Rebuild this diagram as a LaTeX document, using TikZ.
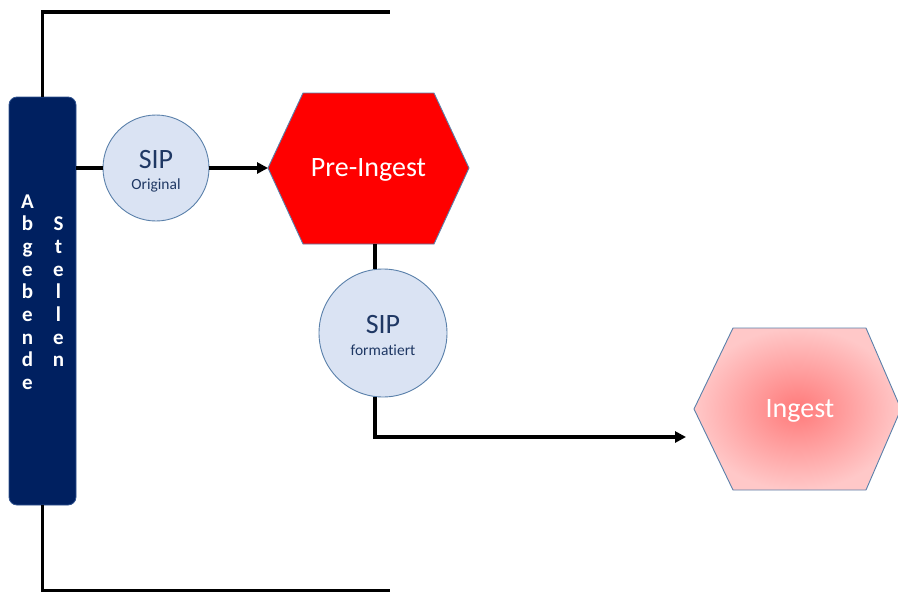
\documentclass[tikz,border=0pt]{standalone}
\usepackage{fontspec}
\setmainfont[Ligatures=NoCommon]{Carlito}
\usetikzlibrary{arrows.meta}
\definecolor{navy}{HTML}{002060}
\definecolor{navyedge}{HTML}{2F528F}
\definecolor{edgeblue}{HTML}{5A80AA}
\definecolor{sipfill}{HTML}{DAE3F3}
\definecolor{siptext}{HTML}{1F3864}
\definecolor{ingin}{HTML}{FF7A7A}
\definecolor{ingout}{HTML}{FFC8C8}
\begin{document}
\begin{tikzpicture}[x=1pt,y=-1pt,
  conn/.style={line width=3.4pt, black},
  arr/.style={conn, -{Triangle[length=11pt,width=11pt]}},
  sipcircle/.style={circle, draw=edgeblue, line width=0.9pt, fill=sipfill, inner sep=0pt},
  sipbig/.style={text=siptext, font=\fontsize{28}{30}\selectfont, inner sep=0pt},
  sipsmall/.style={text=siptext, font=\fontsize{15.5}{17}\selectfont, inner sep=0pt},
  hexlabel/.style={text=white, font=\fontsize{28}{30}\selectfont, inner sep=0pt},
  letter/.style={text=white, font=\bfseries\fontsize{21}{22}\selectfont, inner sep=0pt, anchor=base},
  hexedge/.style={draw=edgeblue, line width=0.9pt}
]
\useasboundingbox (0,0) rectangle (898,592);

% Abgebende Stellen bar
\node[draw=navyedge, line width=0.8pt, fill=navy, rounded corners=8pt,
      minimum width=67pt, minimum height=408pt, inner sep=0pt] (bar) at (42.5,301) {};
\foreach \c [count=\i] in {A,b,g,e,b,e,n,d,e}
  \node[letter] (abg\i) at (27.5,{208+22.7*(\i-1)}) {\c};
\foreach \c [count=\i] in {S,t,e,l,l,e,n}
  \node[letter] (st\i) at (58.5,{230.7+22.7*(\i-1)}) {\c};

% frame lines
\coordinate (topend) at (390,12);
\coordinate (botend) at (390,591);
\draw[conn] (bar.north) |- (topend);
\draw[conn] (bar.south) |- (botend);

% SIP Original
\node[sipcircle, minimum size=106pt] (sip1) at (156,168) {};
\node[sipbig] (sip1a) at (156,160) {SIP};
\node[sipsmall] (sip1b) at (156,185) {Original};

% Pre-Ingest hexagon
\coordinate (pw) at (268,168);
\coordinate (pnw) at (303,93);
\coordinate (pne) at (434,93);
\coordinate (pe) at (469,168);
\coordinate (pse) at (434,244);
\coordinate (psw) at (303,244);
\coordinate (pb) at (375,244);
\fill[red] (pw) -- (pnw) -- (pne) -- (pe) -- (pse) -- (psw) -- cycle;
\draw[hexedge] (pw) -- (pnw) -- (pne) -- (pe) -- (pse) -- (psw) -- cycle;
\node[hexlabel] (pre) at (368.5,170) {Pre-Ingest};

% SIP formatiert
\node[sipcircle, minimum size=128pt] (sip2) at (383,333) {};
\node[sipbig] (sip2a) at (383,325) {SIP};
\node[sipsmall] (sip2b) at (383,350) {formatiert};

% Ingest hexagon
\coordinate (iw) at (694,409);
\coordinate (inw) at (733,328);
\coordinate (ine) at (866,328);
\coordinate (ie) at (901,409);
\coordinate (ise) at (866,490);
\coordinate (isw) at (733,490);
\shade[inner color=ingin, outer color=ingout] (iw) -- (inw) -- (ine) -- (ie) -- (ise) -- (isw) -- cycle;
\draw[hexedge] (iw) -- (inw) -- (ine) -- (ie) -- (ise) -- (isw) -- cycle;
\node[hexlabel] (ing) at (800,411) {Ingest};
\coordinate (ingend) at (686,437);

% connectors
\draw[conn] (sip1.west -| bar.east) -- (sip1.west);
\draw[arr] (sip1.east) -- (pw);
\draw[conn] (pb) -- (pb |- sip2.north);
\draw[arr] (pb |- sip2.south) |- (ingend);
\end{tikzpicture}
\end{document}
